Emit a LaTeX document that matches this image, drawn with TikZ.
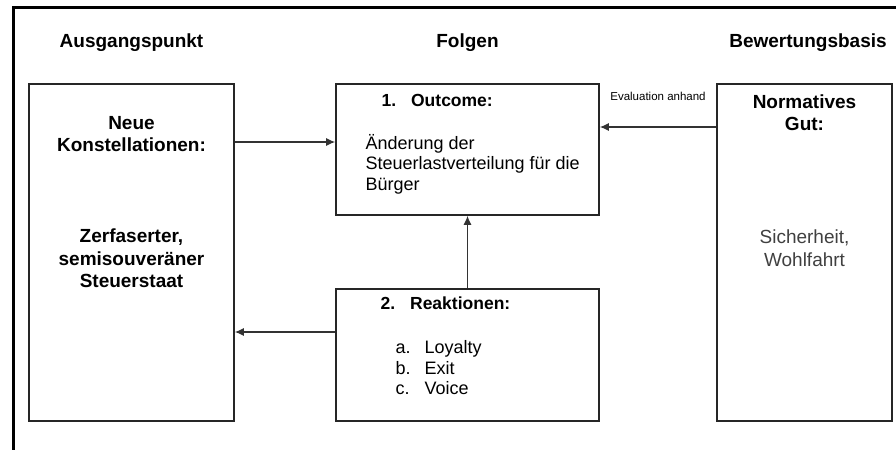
\documentclass[tikz,border=0pt]{standalone}
\usepackage{fontspec}
\setmainfont{Liberation Sans}
\usetikzlibrary{arrows.meta,positioning}
\begin{document}
\begin{tikzpicture}[x=1pt,y=-1pt,
    box/.style = {draw=black!85, line width=1.6pt, inner sep=0pt},
    head/.style = {font=\fontsize{19}{22.5}\selectfont\bfseries},
    sub/.style = {font=\fontsize{17.5}{20}\selectfont\bfseries},
    txt/.style = {font=\fontsize{18}{20.5}\selectfont},
    pfeil/.style = {draw=black!80, line width=1.2pt, -{Latex[length=9pt,width=8pt]}}]
    \useasboundingbox (0,0) rectangle (896,450);
    \draw[line width=3pt] (896,7) -- (13,7) -- (13,450);
    % Kaesten
    \node[box, minimum width=205pt, minimum height=337pt] (links) at (131.5,252.5) {};
    \node[box, minimum width=263pt, minimum height=131pt] (outcome) at (467.5,149.5) {};
    \node[box, minimum width=263pt, minimum height=132pt] (reaktion) at (467.5,355) {};
    \node[box, minimum width=175pt, minimum height=337pt] (gut) at (804.5,252.5) {};
    % Ueberschriften
    \node[head] (ausg) at (links.north |- 0,43) {Ausgangspunkt};
    \node[head] (folgen) at (outcome.north |- 0,43) {Folgen};
    \node[head] (bewert) at (808,43) {Bewertungsbasis};
    % Texte
    \node[head, align=center] (neue) at (131.5,134) {Neue\\Konstellationen:};
    \node[head, align=center] (zerf) at (131.5,258.5) {Zerfaserter,\\semisouveräner\\Steuerstaat};
    \node[sub, anchor=west] (t1) at (378,100) {1.\hspace{15pt}Outcome:};
    \node[txt, anchor=west, align=left] (t1text) at (362,164) {Änderung der\\Steuerlastverteilung für die\\Bürger};
    \node[sub, anchor=west] (t2) at (377,303) {2.\hspace{15pt}Reaktionen:};
    \node[txt, anchor=west, align=left] (t2text) at (392,368)
        {\makebox[29pt][l]{a.}Loyalty\\\makebox[29pt][l]{b.}Exit\\\makebox[29pt][l]{c.}Voice};
    \node[head, align=center] (norm) at (804.5,112.5) {Normatives\\Gut:};
    \node[txt, font=\fontsize{19}{23}\selectfont, text=black!75, align=center] (sich) at (804.5,248) {Sicherheit,\\Wohlfahrt};
    % Pfeile
    \draw[pfeil] ([yshift=7.5pt]outcome.west -| links.east) -- ([yshift=7.5pt]outcome.west);
    \draw[pfeil] ([yshift=22.5pt]outcome.east -| gut.west) -- ([yshift=22.5pt]outcome.east)
        node[midway, above=22pt, font=\fontsize{11.5}{13}\selectfont] (eval) {Evaluation anhand};
    \draw[pfeil] (reaktion.north) -- (outcome.south);
    \draw[pfeil] ([yshift=23pt]reaktion.west) -- ([yshift=23pt]reaktion.west -| links.east);
\end{tikzpicture}
\end{document}
